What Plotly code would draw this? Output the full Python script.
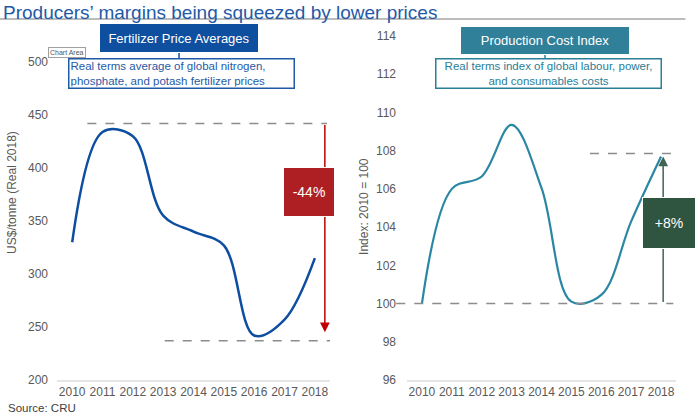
import plotly.graph_objects as go

# Chart data
years = [2010, 2011, 2012, 2013, 2014, 2015, 2016, 2017, 2018]
fert_price = [330, 434, 430, 355, 340, 327, 242, 257, 315]
cost_index = [100.0, 106.0, 106.65, 109.35, 106.05, 100.1, 100.45, 104.3, 107.7]

# Reference levels and change labels
fert_high, fert_low = 442, 237
cost_low, cost_high = 100, 107.85
fert_change = "-44%"
cost_change = "+8%"

FONT = "Liberation Sans, Arial, sans-serif"
GREY = "#595959"
BLUE = "#0D4EA0"
TEAL = "#2A87A3"

fig = go.Figure()

fig.add_trace(go.Scatter(x=years, y=fert_price, mode="lines",
                         line=dict(color=BLUE, width=2.5, shape="spline"),
                         xaxis="x", yaxis="y", showlegend=False))
fig.add_trace(go.Scatter(x=years, y=cost_index, mode="lines",
                         line=dict(color=TEAL, width=2.2, shape="spline"),
                         xaxis="x2", yaxis="y2", showlegend=False))

axis_common = dict(showgrid=False, zeroline=False, ticks="", automargin=False,
                   tickfont=dict(family=FONT, size=12, color=GREY))
fig.update_layout(
    width=698, height=413,
    margin=dict(l=0, r=0, t=0, b=0, pad=0),
    paper_bgcolor="white", plot_bgcolor="white",
    font=dict(family=FONT),
    showlegend=False,
    xaxis=dict(domain=[0.0817, 0.4728], range=[2009.5, 2018.5], tickvals=years,
               showline=True, linecolor="#E6E6E6", linewidth=1.5, **axis_common),
    yaxis=dict(domain=[0.0799, 0.8499], range=[200, 500], dtick=50,
               ticklabelstandoff=8, **axis_common),
    xaxis2=dict(domain=[0.5831, 0.9685], range=[2009.5, 2018.5], tickvals=years,
                showline=True, linecolor="#E6E6E6", linewidth=1.5, anchor="y2",
                **axis_common),
    yaxis2=dict(domain=[0.0799, 0.9128], range=[96, 114], dtick=2, anchor="x2",
                ticklabelstandoff=10, **axis_common),
)

dash = dict(color="#8C8C8C", width=1.5, dash="dash")
fig.add_shape(type="line", xref="x", yref="y", x0=2010.5, x1=2018.4, y0=fert_high, y1=fert_high, line=dash)
fig.add_shape(type="line", xref="x", yref="y", x0=2013.05, x1=2018.5, y0=fert_low, y1=fert_low, line=dash)
fig.add_shape(type="line", xref="x2 domain", yref="y2", x0=-0.04, x1=0.99, y0=cost_low, y1=cost_low, line=dash)
fig.add_shape(type="line", xref="x2", yref="y2", x0=2015.62, x1=2018.46, y0=cost_high, y1=cost_high, line=dash)

# title underline and connectors between the header boxes
fig.add_shape(type="line", xref="paper", yref="paper", x0=0, x1=0.982, y0=0.954, y1=0.954,
              line=dict(color="#A6A6A6", width=1.5))
fig.add_shape(type="line", xref="paper", yref="paper", x0=0.2565, x1=0.2565, y0=0.875, y1=0.855,
              line=dict(color=BLUE, width=1.5))
fig.add_shape(type="line", xref="paper", yref="paper", x0=0.7808, x1=0.7808, y0=0.87, y1=0.855,
              line=dict(color=TEAL, width=1.5))

# change arrows
fig.add_annotation(x=2018.33, y=245, ax=2018.33, ay=fert_high, xref="x", yref="y",
                   axref="x", ayref="y", showarrow=True, arrowhead=2, arrowsize=1.3,
                   arrowwidth=1.5, arrowcolor="#C00000", text="")
fig.add_annotation(x=2018.07, y=107.7, ax=2018.07, ay=cost_low, xref="x2", yref="y2",
                   axref="x2", ayref="y2", showarrow=True, arrowhead=2, arrowsize=1.3,
                   arrowwidth=1.5, arrowcolor="#3F6555", text="")

box = dict(showarrow=False, xanchor="center", yanchor="middle")
fig.add_annotation(x=2017.8, y=377, xref="x", yref="y", text=fert_change,
                   font=dict(family=FONT, size=14, color="white"), bgcolor="#AE1F23",
                   bordercolor="white", borderwidth=1, width=48, height=46, borderpad=1, **box)
fig.add_annotation(x=2018.28, y=104.2, xref="x2", yref="y2", text=cost_change,
                   font=dict(family=FONT, size=14, color="white"), bgcolor="#2F5440",
                   bordercolor="white", borderwidth=1, width=50, height=48, borderpad=1, **box)

# header boxes
fig.add_annotation(x=0.2565, y=0.908, xref="paper", yref="paper", text="Fertilizer Price Averages",
                   font=dict(family=FONT, size=13, color="white"),
                   bgcolor="#0F4FA0", bordercolor="white", borderwidth=1, width=156, height=26,
                   borderpad=1, **box)
fig.add_annotation(x=0.2594, y=0.821, xref="paper", yref="paper",
                   text="Real terms average of global nitrogen,<br>phosphate, and potash fertilizer prices",
                   align="left", font=dict(family=FONT, size=11.5, color="#1F5AA6"),
                   bgcolor="white", bordercolor="#1F5AA6", borderwidth=1.5, width=222, height=26,
                   borderpad=1, **box)
fig.add_annotation(x=0.7808, y=0.903, xref="paper", yref="paper", text="Production Cost Index",
                   font=dict(family=FONT, size=13, color="white"),
                   bgcolor="#31809A", bordercolor="white", borderwidth=1, width=166, height=25,
                   borderpad=1, **box)
fig.add_annotation(x=0.7865, y=0.821, xref="paper", yref="paper",
                   text="Real terms index of global labour, power,<br>and consumables costs",
                   align="center", font=dict(family=FONT, size=11.5, color="#2A7E95"),
                   bgcolor="white", bordercolor="#2A7E95", borderwidth=1.5, width=222, height=26,
                   borderpad=1, **box)

# page title, axis titles, source
fig.add_annotation(x=0.002, y=1.0, xref="paper", yref="paper", xanchor="left", yanchor="top",
                   text="Producers\u2019 margins being squeezed by lower prices", showarrow=False,
                   font=dict(family=FONT, size=19, color="#1F5AA6"))
fig.add_annotation(x=0.017, y=0.535, xref="paper", yref="paper", text="US$/tonne (Real 2018)",
                   textangle=-90, font=dict(family=FONT, size=12, color=GREY), **box)
fig.add_annotation(x=0.5215, y=0.499, xref="paper", yref="paper", text="Index: 2010 = 100",
                   textangle=-90, font=dict(family=FONT, size=12, color=GREY), **box)
fig.add_annotation(x=0.008, y=0.012, xref="paper", yref="paper", xanchor="left", yanchor="middle",
                   text="Source: CRU", showarrow=False, font=dict(family=FONT, size=11.5, color="#404040"))
fig.add_annotation(x=0.0962, y=0.874, xref="paper", yref="paper", text="Chart Area",
                   font=dict(family=FONT, size=7, color="#555555"),
                   bgcolor="white", bordercolor="#A0A0A0", borderwidth=1, borderpad=1, **box)

fig.write_html("out.html", config={"displayModeBar": False},
               post_script="document.body.style.margin='0';")
